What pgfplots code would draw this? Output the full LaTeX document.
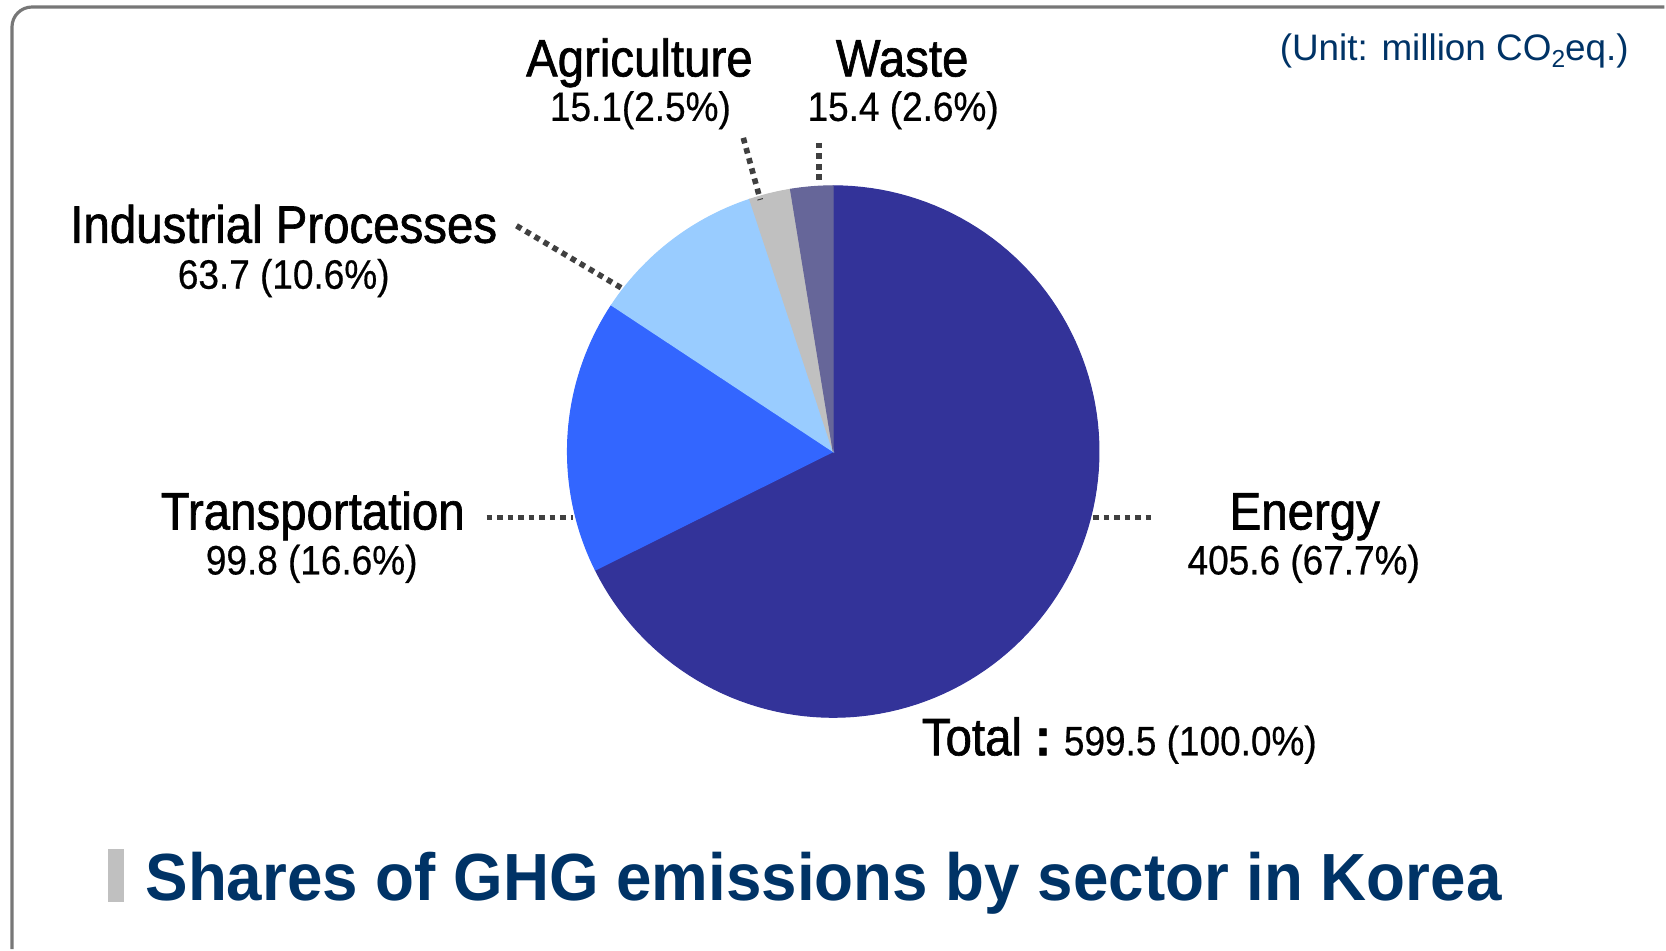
\documentclass[border=0pt]{standalone}
\usepackage{pgfplots}
\pgfplotsset{compat=1.18}
\usepackage{pgfplotstable}
\usepackage{fontspec}
\setmainfont{Liberation Sans}
\newfontfamily\narrow{Liberation Sans}[FakeStretch=0.9, FakeBold=0.5]
\newfontfamily\labfont{Liberation Sans}[FakeStretch=0.9, FakeBold=1.2]
\newfontfamily\titlefont{Liberation Sans}[FakeStretch=0.955]
\definecolor{cEnergy}{HTML}{333399}
\definecolor{cTrans}{HTML}{3366FF}
\definecolor{cInd}{HTML}{99CCFF}
\definecolor{cAgr}{HTML}{C0C0C0}
\definecolor{cWaste}{HTML}{666699}
\definecolor{titleblue}{HTML}{003366}
\definecolor{framegray}{HTML}{777777}
\definecolor{leadgray}{HTML}{404040}
\tikzset{
  leader/.style={draw=leadgray, line width=1.6pt, dash pattern=on 1.6pt off 1.4pt},
  lab/.style={font=\labfont\fontsize{15}{18}\selectfont, anchor=base, inner sep=0pt},
  val/.style={font=\narrow\fontsize{11.7}{14}\selectfont, anchor=base, inner sep=0pt},
}

\pgfplotstableread{
sector value
Energy 405.6
Transportation 99.8
Industrial 63.7
Agriculture 15.1
Waste 15.4
}\ghg

\begin{document}
\begin{tikzpicture}
\pgfplotstablegetelem{0}{value}\of\ghg \pgfmathsetmacro\vA{\pgfplotsretval}
\pgfplotstablegetelem{1}{value}\of\ghg \pgfmathsetmacro\vB{\pgfplotsretval}
\pgfplotstablegetelem{2}{value}\of\ghg \pgfmathsetmacro\vC{\pgfplotsretval}
\pgfplotstablegetelem{3}{value}\of\ghg \pgfmathsetmacro\vD{\pgfplotsretval}
\pgfplotstablegetelem{4}{value}\of\ghg \pgfmathsetmacro\vE{\pgfplotsretval}
\pgfmathsetmacro\tot{\vA+\vB+\vC+\vD+\vE}
\pgfmathsetmacro\aA{90}
\pgfmathsetmacro\aB{\aA-360*(\vA/\tot)}
\pgfmathsetmacro\aC{\aB-360*(\vB/\tot)}
\pgfmathsetmacro\aD{\aC-360*(\vC/\tot)}
\pgfmathsetmacro\aE{\aD-360*(\vD/\tot)}
\pgfmathsetmacro\aF{\aE-360*(\vE/\tot)}
\def\cx{834}\def\cy{452}\def\R{266}
\begin{axis}[
  width=16.66cm, height=9.5cm, scale only axis,
  xmin=0, xmax=1666, ymin=0, ymax=950, y dir=reverse,
  hide axis, clip=false,
]
\path (axis cs:0,0) rectangle (axis cs:1666,950);
% frame
\draw[framegray, line width=0.9pt, rounded corners=0.2cm] (axis cs:12,950) -- (axis cs:12,7) -- (axis cs:1666,7);
% pie sectors
\addplot[fill=cEnergy, draw=cEnergy, line width=0.3pt, domain=\aB:\aA, samples=120] ({\cx+\R*cos(x)},{\cy-\R*sin(x)}) -- (axis cs:\cx,\cy) -- cycle;
\addplot[fill=cTrans, draw=cTrans, line width=0.3pt, domain=\aC:\aB, samples=40] ({\cx+\R*cos(x)},{\cy-\R*sin(x)}) -- (axis cs:\cx,\cy) -- cycle;
\addplot[fill=cInd, draw=cInd, line width=0.3pt, domain=\aD:\aC, samples=30] ({\cx+\R*cos(x)},{\cy-\R*sin(x)}) -- (axis cs:\cx,\cy) -- cycle;
\addplot[fill=cAgr, draw=cAgr, line width=0.3pt, domain=\aE:\aD, samples=10] ({\cx+\R*cos(x)},{\cy-\R*sin(x)}) -- (axis cs:\cx,\cy) -- cycle;
\addplot[fill=cWaste, draw=cWaste, line width=0.3pt, domain=\aF:\aE, samples=10] ({\cx+\R*cos(x)},{\cy-\R*sin(x)}) -- (axis cs:\cx,\cy) -- cycle;
% leaders
\draw[leader] (axis cs:517,226) -- (axis cs:625,290);
\draw[leader] (axis cs:744,138) -- (axis cs:761,200);
\draw[leader] (axis cs:820,143) -- (axis cs:820,185);
\draw[leader] (axis cs:487,518) -- (axis cs:574,518);
\draw[leader] (axis cs:1094,518) -- (axis cs:1153,518);
% labels
\node[lab] at (axis cs:640,76.5) {Agriculture};
\node[val] at (axis cs:641,121) {15.1(2.5\%)};
\node[lab] at (axis cs:903,76.5) {Waste};
\node[val] at (axis cs:904,121) {15.4 (2.6\%)};
\node[lab] at (axis cs:284,243) {Industrial Processes};
\node[val] at (axis cs:284,289) {63.7 (10.6\%)};
\node[lab] at (axis cs:313,530) {Transportation};
\node[val] at (axis cs:312,575) {99.8 (16.6\%)};
\node[lab] at (axis cs:1306,530) {Energy};
\node[val] at (axis cs:1305,575) {405.6 (67.7\%)};
\node[anchor=base west, inner sep=0pt] at (axis cs:922,756) {{\labfont\fontsize{15}{18}\selectfont Total \textbf{:}} {\narrow\fontsize{11.7}{14}\selectfont 599.5 (100.0\%)}};
% unit
\node[anchor=base east, inner sep=0pt, text=titleblue, font=\fontsize{10.5}{12}\selectfont] at (axis cs:1631,61) {(Unit: million CO\raisebox{-0.35ex}{\fontsize{7}{8}\selectfont 2}eq.)};
% title
\fill[cAgr] (axis cs:108,850) rectangle (axis cs:124,903);
\node[anchor=base west, inner sep=0pt, text=titleblue, font=\titlefont\bfseries\fontsize{19}{22}\selectfont] at (axis cs:145,901) {Shares of GHG emissions by sector in Korea};
\end{axis}
\end{tikzpicture}
\end{document}
